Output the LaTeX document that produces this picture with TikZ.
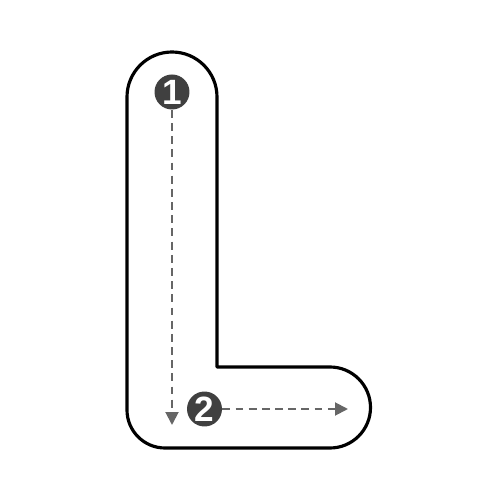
\documentclass[tikz,border=0pt]{standalone}
\usepackage{fontspec}
\setmainfont{Liberation Sans}
\usetikzlibrary{arrows.meta}

\tikzstyle{letter} = [draw=black, line width=1.8pt, line join=round]
\tikzstyle{stepnum} = [circle, fill=black!75, text=white, inner sep=0pt, minimum size=0.7cm, font=\bfseries\fontsize{20}{20}\selectfont]
\tikzstyle{guide} = [draw=black!60, line width=1.1pt, dash pattern=on 4.5pt off 3pt, -{Triangle[length=0.26cm,width=0.26cm]}]

\begin{document}
\begin{tikzpicture}[x=0.02cm, y=0.02cm]
\useasboundingbox (0,0) rectangle (500,500);

% Outline of the letter
\draw [letter] (127,403) arc (180:0:45) -- (217,133) -- (330,133)
  arc (90:-90:40.5) -- (165,52) arc (270:180:38) -- cycle;

% Stroke order
\node (step1) [stepnum] at (172,408) {1};
\node (step2) [stepnum] at (204.5,91) {2};
\coordinate (end1) at (172,75);
\coordinate (end2) at (348,91);

% Guides
\draw [guide] (step1) -- (end1);
\draw [guide] (step2) -- (end2);

\end{tikzpicture}
\end{document}
